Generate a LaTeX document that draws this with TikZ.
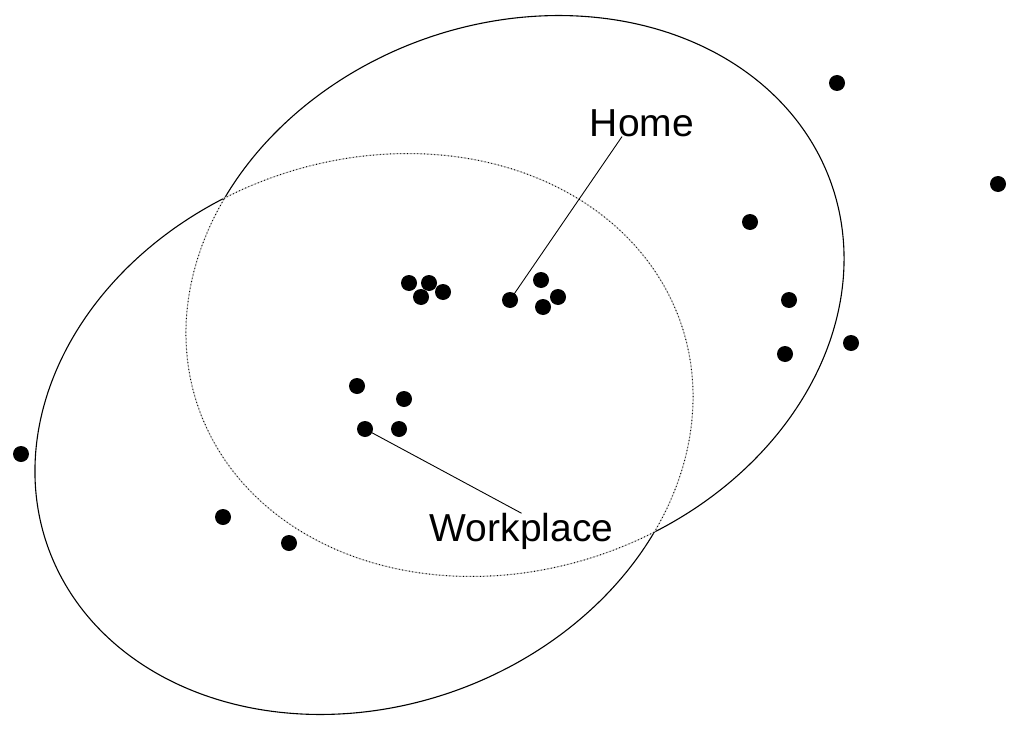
\documentclass[tikz,border=0pt]{standalone}
\usepackage{fontspec}
\setmainfont{Liberation Sans}
\begin{document}
\begin{tikzpicture}[x=1pt,y=1pt,
  outerarc/.style={draw=black,line width=1.1pt},
  innerbase/.style={draw=gray!45,line width=1pt},
  innerdots/.style={draw=black,line width=1pt,dash pattern=on 0.8pt off 2.6pt},
  spot/.style={circle,fill=black,inner sep=0pt,minimum size=16pt},
  lbl/.style={inner sep=0pt,font=\fontsize{39}{39}\selectfont,anchor=base},
  leader/.style={draw=black,line width=0.9pt}]
\useasboundingbox (0,-730) rectangle (1024,0);
% ellipse L: centre (364,-434); ellipse B: centre (515,-296); a=335.7, b=272.5, rotated 19.8 deg
\def\ca{0.9409}\def\sa{0.3387}
% outer arcs (black)
\draw[outerarc] plot[domain=99.1:315.5,samples=240,smooth]
  ({364+335.7*cos(\x)*\ca-272.5*sin(\x)*\sa},{-434+335.7*cos(\x)*\sa+272.5*sin(\x)*\ca});
\draw[outerarc] plot[domain=-81.2:135.9,samples=240,smooth]
  ({515+335.7*cos(\x)*\ca-272.5*sin(\x)*\sa},{-296+335.7*cos(\x)*\sa+272.5*sin(\x)*\ca});
% inner arcs (grey stippled)
\foreach \st in {innerbase,innerdots}{
\draw[\st] plot[domain=-44.5:99.1,samples=200,smooth]
  ({364+335.7*cos(\x)*\ca-272.5*sin(\x)*\sa},{-434+335.7*cos(\x)*\sa+272.5*sin(\x)*\ca});
\draw[\st] plot[domain=135.9:278.8,samples=200,smooth]
  ({515+335.7*cos(\x)*\ca-272.5*sin(\x)*\sa},{-296+335.7*cos(\x)*\sa+272.5*sin(\x)*\ca});
}
% labels
\node[lbl] (home) at (642,-137) {Home};
\node[lbl] (work) at (521.5,-541.7) {Workplace};
% dot positions
\coordinate (p1) at (837,-83);
\coordinate (p2) at (998,-184);
\coordinate (p3) at (750,-222);
\coordinate (p4) at (789,-300);
\coordinate (p5) at (851,-343);
\coordinate (p6) at (785,-354);
\coordinate (p7) at (409,-283);
\coordinate (p8) at (429,-283);
\coordinate (p9) at (421,-297);
\coordinate (p10) at (443,-292);
\coordinate (p11) at (510,-300);
\coordinate (p12) at (541,-280);
\coordinate (p13) at (558,-297);
\coordinate (p14) at (543,-307);
\coordinate (p15) at (357,-386);
\coordinate (p16) at (404,-399);
\coordinate (p17) at (365,-429);
\coordinate (p18) at (399,-429);
\coordinate (p19) at (21,-454);
\coordinate (p20) at (223,-517);
\coordinate (p21) at (289,-543);
% leaders
\draw[leader] ([xshift=-20pt,yshift=1pt]home.south) -- (p11);
\draw[leader] (work.north) -- (p17);
% dots
\foreach \i in {1,...,21}{\node[spot] (d\i) at (p\i) {};}
\end{tikzpicture}
\end{document}
